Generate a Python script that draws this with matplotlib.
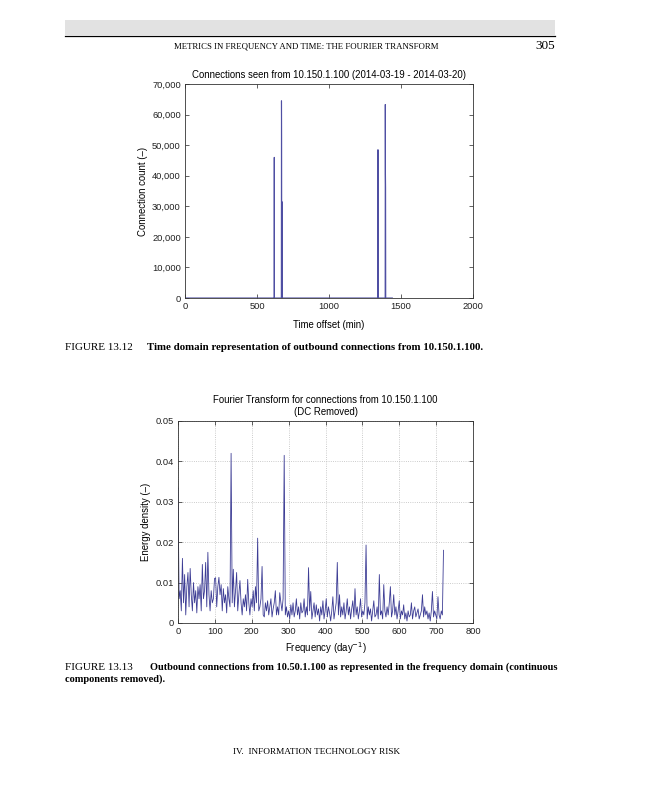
import numpy as np
import matplotlib
matplotlib.use("Agg")
import matplotlib.pyplot as plt
from matplotlib.patches import Rectangle
from matplotlib.lines import Line2D
from matplotlib.ticker import FuncFormatter

# ---------------- data ----------------
# Figure 13.12: connections per minute (zero except the bursts below)
minutes = np.arange(0, 1441)
spike_minutes = [620, 670, 671, 673, 1340, 1341, 1391, 1392, 1393]
spike_counts = [46000, 64500, 52000, 31500, 48500, 22000, 63300, 40500, 36000]

# Figure 13.13: energy density (x1e-3) sampled every 3 day^-1 from 0 to 720
freq_step = 3
energy_milli = [
    33.5, 6, 8, 3, 16, 5, 12, 2, 9, 12.5,
    4, 13.5, 7, 3, 10, 5, 8, 2.5, 9, 6,
    9.5, 3, 14.5, 6, 8, 15, 4, 17.5, 7, 3,
    8, 5, 6, 11, 11.2, 4, 9, 11.3, 7, 9.5,
    3, 8.5, 5, 7, 2.5, 9, 6, 4, 42, 5,
    13.3, 4, 8, 12.5, 3, 7, 10.5, 5, 2, 6,
    4, 7, 3, 10.8, 5, 2, 6, 4, 8, 3,
    9, 5, 21, 3, 4, 6, 14, 2, 1.5, 5,
    3, 5.5, 2, 4, 6, 1.5, 3.5, 5, 8, 2,
    4, 2, 7.5, 5, 3, 6, 41.5, 2, 4, 1.5,
    3, 1, 4.5, 2, 5, 1.5, 3, 6, 2, 4,
    1, 5, 2.5, 3, 6, 1.5, 4, 2, 13.7, 3,
    7.8, 1, 3, 5, 1.5, 4.5, 2, 3.5, 0.5, 4,
    2, 5.5, 1, 3, 6, 1.5, 4, 2.5, 0.5, 3,
    6.5, 1, 3, 5, 15, 2, 7, 1.5, 4, 2,
    5, 1, 3, 6, 2, 4, 1, 3.5, 5.5, 1.5,
    8.5, 2, 4, 1, 3, 6, 1.5, 3, 2, 5,
    19.3, 1, 4, 2, 3.5, 0.5, 3, 5.5, 1.5, 2,
    4, 1, 12, 2, 3, 1, 9.5, 3, 1.5, 4,
    2, 5, 9, 1.5, 3, 7, 2, 4, 1, 3,
    5.5, 1, 3, 2, 4.5, 1, 2.5, 0.5, 3, 1.5,
    2, 5, 1, 3, 4, 1.5, 2.5, 3.5, 1, 2,
    3, 7, 1.5, 4, 2, 3, 1, 2.5, 0.5, 3,
    7.8, 1.5, 3, 2, 1, 6.5, 2, 1, 3, 2,
    18,
]

time_ticks = [0, 500, 1000, 1500, 2000]
count_ticks = [0, 10000, 20000, 30000, 40000, 50000, 60000, 70000]
freq_ticks = [0, 100, 200, 300, 400, 500, 600, 700, 800]
energy_ticks = [0, 0.01, 0.02, 0.03, 0.04, 0.05]
energy_tick_labels = ["0", "0.01", "0.02", "0.03", "0.04", "0.05"]

# ---------------- figure ----------------
W, H = 647, 800
fig = plt.figure(figsize=(W / 100, H / 100), dpi=100)
fig.patch.set_facecolor("white")

SANS = ["Liberation Sans", "DejaVu Sans"]
SERIF = ["Liberation Serif", "DejaVu Serif"]
FS = 6.9

def fx(px):
    return px / W

def fy(py):
    return 1 - py / H

# page header
fig.patches.append(Rectangle((fx(65), fy(35)), fx(555) - fx(65), fy(20) - fy(35),
                             transform=fig.transFigure, facecolor="#e2e2e2",
                             edgecolor="none"))
fig.lines.append(Line2D([fx(65), fx(555)], [fy(36), fy(36)], transform=fig.transFigure,
                        color="black", lw=0.9))
fig.text(fx(306), fy(47), "METRICS IN FREQUENCY AND TIME: THE FOURIER TRANSFORM",
         ha="center", va="center", fontsize=6.3, family=SERIF)
fig.text(fx(555), fy(46), "305", ha="right", va="center", fontsize=9.5, family=SERIF)

# ---------------- chart 1 ----------------
counts = np.zeros(len(minutes))
for m, c in zip(spike_minutes, spike_counts):
    counts[m] = c

ax1 = fig.add_axes([fx(185), fy(298), fx(473) - fx(185), fy(84) - fy(298)])
ax1.plot(minutes, counts, color="#4f4fa3", lw=0.8)
ax1.set_xlim(0, 2000)
ax1.set_ylim(0, 70000)
ax1.set_xticks(time_ticks)
ax1.set_yticks(count_ticks)
ax1.yaxis.set_major_formatter(FuncFormatter(lambda v, p: f"{int(v):,}"))
ax1.set_title("Connections seen from 10.150.1.100 (2014-03-19 - 2014-03-20)",
              fontsize=FS, family=SANS, pad=4)
ax1.set_xlabel("Time offset (min)", fontsize=FS, family=SANS, labelpad=6)
ax1.set_ylabel("Connection count (\u2013)", fontsize=FS, family=SANS, labelpad=3)

# ---------------- chart 2 ----------------
freqs = np.arange(len(energy_milli)) * freq_step
energy = np.array(energy_milli) * 1e-3

ax2 = fig.add_axes([fx(178), fy(623), fx(473) - fx(178), fy(421) - fy(623)])
ax2.plot(freqs, energy, color="#3d3d95", lw=0.6)
ax2.set_xlim(0, 800)
ax2.set_ylim(0, 0.05)
ax2.set_xticks(freq_ticks)
ax2.set_yticks(energy_ticks)
ax2.set_yticklabels(energy_tick_labels)
ax2.grid(True, ls=":", color="#bbbbbb", lw=0.6)
ax2.set_axisbelow(True)
ax2.set_title("Fourier Transform for connections from 10.150.1.100\n(DC Removed)",
              fontsize=FS, family=SANS, pad=4, linespacing=1.25)
ax2.set_xlabel("Frequency (day$^{-1}$)", fontsize=FS, family=SANS, labelpad=3)
ax2.set_ylabel("Energy density (\u2013)", fontsize=FS, family=SANS, labelpad=3)

for ax in (ax1, ax2):
    for s in ax.spines.values():
        s.set_color("#333333")
        s.set_linewidth(0.6)
    ax.tick_params(direction="in", length=3, width=0.5, top=True, right=True,
                   labelsize=6.7, pad=3, colors="#222222")
    for lab in ax.get_xticklabels() + ax.get_yticklabels():
        lab.set_family(SANS)

# ---------------- captions ----------------
fig.text(fx(65), fy(347), "FIGURE 13.12", ha="left", va="center", fontsize=8.0,
         family=SERIF)
fig.text(fx(147), fy(347),
         "Time domain representation of outbound connections from 10.150.1.100.",
         ha="left", va="center", fontsize=7.8, family=SERIF, weight="bold")

fig.text(fx(65), fy(667), "FIGURE 13.13", ha="left", va="center", fontsize=8.0,
         family=SERIF)
fig.text(fx(150), fy(667),
         "Outbound connections from 10.50.1.100 as represented in the frequency domain (continuous",
         ha="left", va="center", fontsize=7.45, family=SERIF, weight="bold")
fig.text(fx(65), fy(679), "components removed).", ha="left", va="center",
         fontsize=7.45, family=SERIF, weight="bold")

# footer
fig.text(fx(317), fy(752), "IV.  INFORMATION TECHNOLOGY RISK", ha="center", va="center",
         fontsize=6.7, family=SERIF)

fig.savefig("out.png", dpi=100)
